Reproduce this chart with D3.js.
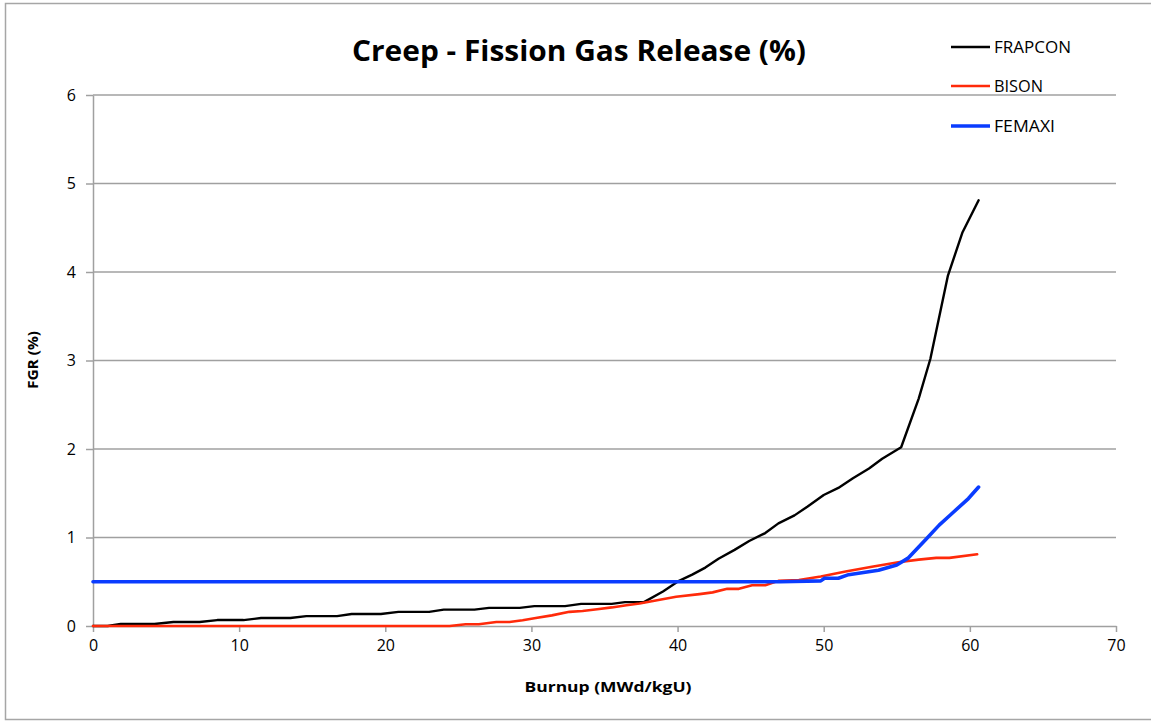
<!DOCTYPE html>
<html><head><meta charset="utf-8">
<script src="https://cdn.jsdelivr.net/npm/d3@7"></script>
<style>body{margin:0;background:#fff;} svg{display:block;}</style>
</head><body>
<svg id="c" width="1151" height="721"></svg>
<script>
const title = "Creep - Fission Gas Release (%)";
const xLabel = "Burnup (MWd/kgU)";
const yLabel = "FGR (%)";
const xTicks = [0,10,20,30,40,50,60,70];
const yTicks = [0,1,2,3,4,5,6];
const seriesNames = ["FRAPCON","BISON","FEMAXI"];
const seriesColors = ["#000000","#ff2a0a","#0a3cff"];

const frapconX = [0,1.0,1.9,3.0,4.2,5.5,6.4,7.3,8.5,9.4,10.3,11.5,12.5,13.5,14.6,15.6,16.7,17.7,18.7,19.7,20.9,21.9,23.0,24.0,25.0,26.1,27.1,28.1,29.2,30.2,31.3,32.3,33.4,34.4,35.5,36.4,37.7,39.0,40.1,41.0,41.9,42.8,43.9,44.9,46.0,46.9,48.0,48.9,50.0,51.0,52.0,53.1,54.0,55.3,56.5,57.3,58.5,59.5,60.6];
const frapconY = [0,0,0.022,0.022,0.022,0.045,0.045,0.045,0.067,0.067,0.067,0.09,0.09,0.09,0.112,0.112,0.112,0.135,0.135,0.135,0.16,0.16,0.16,0.185,0.185,0.185,0.205,0.205,0.205,0.225,0.225,0.225,0.25,0.25,0.25,0.27,0.27,0.39,0.51,0.58,0.66,0.76,0.86,0.96,1.05,1.16,1.25,1.35,1.48,1.56,1.67,1.78,1.89,2.02,2.57,3.02,3.96,4.45,4.81];

const bisonX = [0,5,10,15,20,24.4,25.5,26.4,27.6,28.5,29.4,30.3,31.4,32.6,33.5,34.5,35.5,36.5,37.4,38.6,39.9,41.5,42.4,43.4,44.2,45.1,46.0,46.9,48.3,49.8,51.5,53.3,55.1,56.5,57.7,58.6,60.5];
const bisonY = [0,0,0,0,0,0,0.02,0.02,0.045,0.045,0.065,0.09,0.12,0.16,0.17,0.19,0.21,0.235,0.255,0.29,0.33,0.36,0.38,0.42,0.42,0.46,0.46,0.51,0.52,0.56,0.615,0.67,0.72,0.75,0.77,0.77,0.81];

const femaxiX = [0,10,20,30,40,47.0,49.8,50.05,51.0,51.7,53.75,55.0,55.8,57.0,57.9,58.7,59.9,60.6];
const femaxiY = [0.5,0.5,0.5,0.5,0.5,0.5,0.51,0.54,0.54,0.58,0.63,0.69,0.77,0.98,1.14,1.26,1.44,1.57];

const svg = d3.select("#c");
const font = "'Open Sans', 'Liberation Sans', sans-serif";

// outer border
svg.append("rect").attr("x",5.5).attr("y",3.5).attr("width",1160).attr("height",716)
  .attr("fill","none").attr("stroke","#a6a6a6").attr("stroke-width",1.5);

const x = d3.scaleLinear().domain([0,70]).range([93,1116]);
const y = d3.scaleLinear().domain([0,6]).range([626,95]);

// gridlines
svg.append("g").selectAll("line").data(yTicks.filter(d=>d>0)).join("line")
  .attr("x1",93).attr("x2",1116).attr("y1",d=>y(d)).attr("y2",d=>y(d))
  .attr("stroke","#a0a0a0").attr("stroke-width",1.5);

// x axis
const gx = svg.append("g").attr("transform","translate(0,626)")
  .call(d3.axisBottom(x).tickValues(xTicks).tickFormat(d3.format("d")).tickSize(6).tickSizeOuter(0).tickPadding(8));
gx.select(".domain").attr("stroke","#a0a0a0").attr("stroke-width",1.5);
gx.selectAll(".tick line").attr("stroke","#a0a0a0").attr("stroke-width",1.5);
gx.selectAll("text").attr("font-family",font).attr("font-size",16).attr("fill","#000");

// y axis
const gy = svg.append("g").attr("transform","translate(93,0)")
  .call(d3.axisLeft(y).tickValues(yTicks).tickFormat(d3.format("d")).tickSize(7).tickSizeOuter(0).tickPadding(10));
gy.select(".domain").attr("stroke","#a0a0a0").attr("stroke-width",1.5);
gy.selectAll(".tick line").attr("stroke","#a0a0a0").attr("stroke-width",1.5);
gy.selectAll("text").attr("font-family",font).attr("font-size",16).attr("fill","#000");

// lines
const line = d3.line().x(d=>x(d[0])).y(d=>y(d[1]));
const series = [
  {name:seriesNames[0], xs:frapconX, ys:frapconY, color:seriesColors[0], w:2.4, tl:77},
  {name:seriesNames[1], xs:bisonX, ys:bisonY, color:seriesColors[1], w:2.6, tl:49},
  {name:seriesNames[2], xs:femaxiX, ys:femaxiY, color:seriesColors[2], w:3.6, tl:61}
];
series.forEach(s=>{
  svg.append("path").datum(s.xs.map((v,i)=>[v,s.ys[i]]))
    .attr("d",line).attr("fill","none").attr("stroke",s.color)
    .attr("stroke-width",s.w).attr("stroke-linejoin","round").attr("stroke-linecap","round");
});

// title
svg.append("text").attr("x",579).attr("y",61).attr("text-anchor","middle")
  .attr("font-family",font).attr("font-weight","bold").attr("font-size",28)
  .attr("textLength",454).attr("lengthAdjust","spacingAndGlyphs").text(title);

// axis titles
svg.append("text").attr("x",608).attr("y",692).attr("text-anchor","middle")
  .attr("font-family",font).attr("font-weight","bold").attr("font-size",14)
  .attr("textLength",167).attr("lengthAdjust","spacingAndGlyphs").text(xLabel);
svg.append("text").attr("transform","translate(38,360) rotate(-90)").attr("text-anchor","middle")
  .attr("font-family",font).attr("font-weight","bold").attr("font-size",14)
  .attr("textLength",58).attr("lengthAdjust","spacingAndGlyphs").text(yLabel);

// legend
const ly = [47,86,126];
series.forEach((s,i)=>{
  svg.append("line").attr("x1",951).attr("x2",990).attr("y1",ly[i]).attr("y2",ly[i])
    .attr("stroke",s.color).attr("stroke-width",s.w);
  svg.append("text").attr("x",994).attr("y",ly[i]+6).attr("font-family",font)
    .attr("font-size",16).attr("fill","#000")
    .attr("textLength",s.tl).attr("lengthAdjust","spacingAndGlyphs").text(s.name);
});
</script>
</body></html>
